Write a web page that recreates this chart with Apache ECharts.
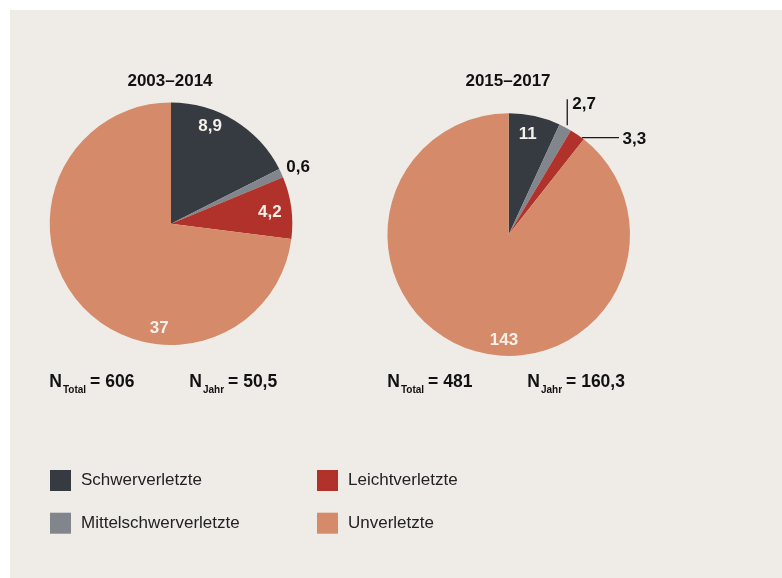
<!DOCTYPE html>
<html>
<head>
<meta charset="utf-8">
<script src="https://cdn.jsdelivr.net/npm/echarts@6/dist/echarts.min.js"></script>
<style>
  html, body { margin: 0; padding: 0; background: #ffffff; }
  #chart { width: 782px; height: 578px; }
</style>
</head>
<body>
<div id="chart"></div>
<script>
// data
const categories = ['Schwerverletzte', 'Mittelschwerverletzte', 'Leichtverletzte', 'Unverletzte'];
const periods = ['2003–2014', '2015–2017'];
const values2003 = [8.9, 0.6, 4.2, 37];
const values2015 = [11, 2.7, 3.3, 143];
const nTotal = [606, 481];
const nJahr = ['50,5', '160,3'];

const colors = ['#353b41', '#80868c', '#b1322a', '#d58a69'];
const font = "'Liberation Sans', Arial, sans-serif";

// label nudges (dx, dy) from the library's default label spot
const nudge2003 = [[5.7, -43.4], [0, -5.5], [35.8, -2.7], [36.1, 62.1]];
const nudge2015 = [[5.3, -37.9], [0, 0], [0, 0], [16.1, 45.6]];

function fmt(v) { return String(v).replace('.', ','); }

function pieData(values, outside) {
  return values.map(function (v, i) {
    const item = { name: categories[i], value: v };
    if (outside.indexOf(i) >= 0) {
      item.label = { position: 'outside', color: '#111111', distanceToLabelLine: 5 };
    }
    return item;
  });
}

var chart = echarts.init(document.getElementById('chart'));

// N annotations as separate pieces (main letter, subscript, rest)
const measure = document.createElement('canvas').getContext('2d');
function textW(str, f) { measure.font = f; return measure.measureText(str).width; }

function nNote(x, sub, rest) {
  const mainF = 'bold 17.5px ' + font, subF = 'bold 10px ' + font;
  const xs = x + textW('N', mainF) + 1;
  const xr = xs + textW(sub, subF) + 4;
  return [
    { type: 'text', x: x, y: 382.2, style: { text: 'N', font: mainF, fill: '#111', align: 'left', verticalAlign: 'middle' } },
    { type: 'text', x: xs, y: 390, style: { text: sub, font: subF, fill: '#111', align: 'left', verticalAlign: 'middle' } },
    { type: 'text', x: xr, y: 382.2, style: { text: rest, font: mainF, fill: '#111', align: 'left', verticalAlign: 'middle' } }
  ];
}

var graphics = [
  { type: 'rect', z: -10, silent: true, shape: { x: 10, y: 10, width: 772, height: 568 }, style: { fill: '#efece8' } },
  { type: 'text', x: 170, y: 81.5, style: { text: periods[0], font: 'bold 17px ' + font, fill: '#111', align: 'center', verticalAlign: 'middle' } },
  { type: 'text', x: 508, y: 81.5, style: { text: periods[1], font: 'bold 17px ' + font, fill: '#111', align: 'center', verticalAlign: 'middle' } }
].concat(
  nNote(49.3, 'Total', '= ' + nTotal[0]),
  nNote(189.3, 'Jahr', '= ' + nJahr[0]),
  nNote(387.3, 'Total', '= ' + nTotal[1]),
  nNote(527.3, 'Jahr', '= ' + nJahr[1])
);

var labelBase = {
  show: true,
  position: 'inside',
  color: '#f4f0ea',
  fontFamily: font,
  fontWeight: 'bold',
  fontSize: 17,
  formatter: function (p) { return fmt(p.value); }
};

var legendBase = {
  orient: 'vertical',
  top: 470,
  padding: 0,
  itemWidth: 21,
  itemHeight: 21,
  itemGap: 21.7,
  icon: 'rect',
  selectedMode: false,
  textStyle: { fontFamily: font, fontSize: 17, color: '#222222', padding: [0, 0, 0, 5] }
};

var option = {
  animation: false,
  color: colors,
  graphic: graphics,
  legend: [
    Object.assign({}, legendBase, { left: 50, data: [categories[0], categories[1]] }),
    Object.assign({}, legendBase, { left: 317, data: [categories[2], categories[3]] })
  ],
  series: [
    {
      name: periods[0],
      type: 'pie',
      center: [171, 223.7],
      radius: 121.3,
      startAngle: 90,
      clockwise: true,
      avoidLabelOverlap: false,
      silent: true,
      itemStyle: { borderWidth: 0 },
      label: labelBase,
      labelLine: { show: false, length: 0, length2: 0 },
      labelLayout: function (p) {
        return { dx: nudge2003[p.dataIndex][0], dy: nudge2003[p.dataIndex][1] };
      },
      data: pieData(values2003, [1])
    },
    {
      name: periods[1],
      type: 'pie',
      center: [508.7, 234.6],
      radius: 121.3,
      startAngle: 90,
      clockwise: true,
      avoidLabelOverlap: false,
      silent: true,
      itemStyle: { borderWidth: 0 },
      label: labelBase,
      labelLine: { show: true, length: 0, length2: 0, lineStyle: { color: '#1a1a1a', width: 1.3 } },
      labelLayout: function (p) {
        const pts = p.labelLinePoints;
        if (p.dataIndex === 1 && pts) {
          const x0 = pts[0][0] + 2, y0 = pts[0][1] - 2;
          return { x: x0 + 5, y: y0 - 21, align: 'left', verticalAlign: 'middle',
                   labelLinePoints: [[x0, y0], [x0, y0 - 26], [x0, y0 - 26]] };
        }
        if (p.dataIndex === 2 && pts) {
          const x0 = pts[0][0] + 4.5, y0 = pts[0][1] + 3;
          return { x: x0 + 40.5, y: y0 + 1.3, align: 'left', verticalAlign: 'middle',
                   labelLinePoints: [[x0, y0], [x0 + 37, y0], [x0 + 37, y0]] };
        }
        return { dx: nudge2015[p.dataIndex][0], dy: nudge2015[p.dataIndex][1] };
      },
      data: pieData(values2015, [1, 2])
    }
  ]
};

chart.setOption(option);
</script>
</body>
</html>
